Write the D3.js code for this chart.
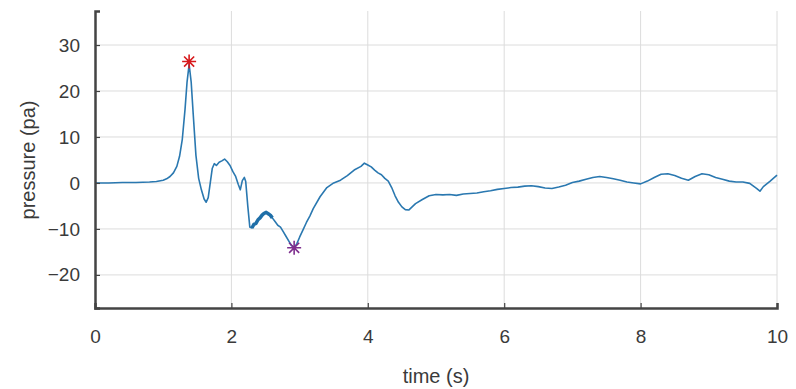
<!DOCTYPE html>
<html>
<head>
<meta charset="utf-8">
<script src="https://cdn.jsdelivr.net/npm/d3@7"></script>
<style>
    body { margin: 0; background: #fff; }
    svg text { font-family: "Liberation Sans", Arial, sans-serif; fill: #3a3a3a; }
</style>
</head>
<body>
<svg class="chart"></svg>
<script>

// pressure trace
var time = [
    0, 0.2, 0.4, 0.6, 0.8, 0.9, 1.0, 1.05, 1.1, 1.15,
    1.2, 1.24, 1.28, 1.32, 1.35, 1.38, 1.41, 1.44, 1.48, 1.52,
    1.56, 1.6, 1.63, 1.66, 1.69, 1.72, 1.75, 1.78, 1.82, 1.86,
    1.9, 1.94, 1.98, 2.02, 2.06, 2.1, 2.13, 2.16, 2.19, 2.21,
    2.24, 2.27, 2.3, 2.33, 2.36, 2.39, 2.42, 2.45, 2.48, 2.51,
    2.54, 2.57, 2.6, 2.64, 2.68, 2.72, 2.76, 2.8, 2.84, 2.88,
    2.92, 2.96, 3.0, 3.05, 3.1, 3.15, 3.2, 3.3, 3.4, 3.5,
    3.6, 3.7, 3.8, 3.9, 3.95, 4.0, 4.05, 4.1, 4.15, 4.2,
    4.25, 4.3, 4.35, 4.4, 4.45, 4.5, 4.55, 4.6, 4.65, 4.7,
    4.8, 4.9, 5.0, 5.1, 5.2, 5.3, 5.4, 5.5, 5.6, 5.7,
    5.8, 5.9, 6.0, 6.1, 6.2, 6.3, 6.4, 6.5, 6.6, 6.7,
    6.8, 6.9, 7.0, 7.1, 7.2, 7.3, 7.4, 7.5, 7.6, 7.7,
    7.8, 7.9, 8.0, 8.1, 8.2, 8.3, 8.4, 8.5, 8.6, 8.7,
    8.8, 8.9, 9.0, 9.1, 9.2, 9.3, 9.4, 9.5, 9.6, 9.7,
    9.75, 9.8, 9.9, 10.0
];

var pressure = [
    0, 0, 0.1, 0.1, 0.2, 0.3, 0.6, 0.9, 1.4, 2.2,
    3.6, 5.8, 9.5, 16, 22, 25.8, 22, 15, 6, 1,
    -1.5, -3.5, -4.2, -3.2, 0, 3.2, 4.2, 3.8, 4.5, 4.8,
    5.2, 4.6, 3.8, 2.5, 1.5, -0.3, -1.5, 0.5, 1.2, 0.3,
    -5, -9.6, -9.8, -9.0, -8.8, -8.0, -7.6, -7.0, -6.6, -6.4,
    -6.7, -7.0, -7.6, -8.4, -9.2, -9.6, -10.6, -11.6, -12.6, -13.6,
    -14.1, -13.2, -11.8, -10.2, -8.6, -7.2, -5.6, -3, -1.0, 0,
    0.6, 1.6, 2.8, 3.6, 4.3, 3.9, 3.5, 2.8, 2.2, 1.8,
    1.0, 0.4, -1.0, -2.8, -4.2, -5.2, -5.8, -5.9, -5.2, -4.5,
    -3.6, -2.8, -2.5, -2.6, -2.5, -2.7, -2.4, -2.3, -2.2, -1.9,
    -1.7, -1.4, -1.2, -1.0, -0.9, -0.7, -0.6, -0.8, -1.1, -1.2,
    -0.9, -0.5, 0.1, 0.4, 0.8, 1.2, 1.4, 1.2, 0.9, 0.6,
    0.2, 0.0, -0.2, 0.4, 1.2, 1.9, 2.0, 1.6, 1.0, 0.6,
    1.4, 2.0, 1.8, 1.2, 0.8, 0.4, 0.2, 0.2, -0.1, -1.2,
    -1.8, -0.8, 0.4, 1.7
];

// marked extremes
var peakPoint = [1.38, 26.4];
var troughPoint = [2.92, -14.1];

var xTicks = [0, 2, 4, 6, 8, 10];
var yTicks = [-20, -10, 0, 10, 20, 30];

var width = 796,
    height = 389,
    plotLeft = 95,
    plotRight = 777,
    plotTop = 11,
    plotBottom = 308;

var x = d3.scaleLinear().domain([0, 10]).range([plotLeft, plotRight]);
var y = d3.scaleLinear().domain([-27.2, 37.4]).range([plotBottom, plotTop]);

var data = time.map(function(t, i) { return [t, pressure[i]]; });

var svg = d3.select(".chart")
    .attr("width", width)
    .attr("height", height);

// grid
svg.append("g")
    .selectAll("line")
    .data(xTicks.filter(function(d) { return d > 0; }))
    .enter().append("line")
    .attr("x1", function(d) { return x(d); })
    .attr("x2", function(d) { return x(d); })
    .attr("y1", plotTop)
    .attr("y2", plotBottom)
    .attr("stroke", "#dcdcdc")
    .attr("stroke-width", 1);

svg.append("g")
    .selectAll("line")
    .data(yTicks)
    .enter().append("line")
    .attr("x1", plotLeft)
    .attr("x2", plotRight)
    .attr("y1", function(d) { return y(d); })
    .attr("y2", function(d) { return y(d); })
    .attr("stroke", "#dcdcdc")
    .attr("stroke-width", 1);

// trace
var line = d3.line()
    .x(function(d) { return x(d[0]); })
    .y(function(d) { return y(d[1]); });

svg.append("path")
    .datum(data)
    .attr("fill", "none")
    .attr("stroke", "#2a78b0")
    .attr("stroke-width", 1.6)
    .attr("stroke-linejoin", "round")
    .attr("d", line);

// the noisy stretch after the drop looks thicker in the picture
svg.append("path")
    .datum(data.filter(function(d) { return d[0] >= 2.3 && d[0] <= 2.6; }))
    .attr("fill", "none")
    .attr("stroke", "#1f6fa8")
    .attr("stroke-width", 3.5)
    .attr("stroke-linejoin", "round")
    .attr("d", line);

// asterisk markers
function star(p, r) {
    var cx = x(p[0]), cy = y(p[1]), d = r * 0.72;
    return "M" + (cx - r) + "," + cy + "H" + (cx + r) +
        "M" + cx + "," + (cy - r) + "V" + (cy + r) +
        "M" + (cx - d) + "," + (cy - d) + "L" + (cx + d) + "," + (cy + d) +
        "M" + (cx - d) + "," + (cy + d) + "L" + (cx + d) + "," + (cy - d);
}

svg.append("path")
    .attr("d", star(peakPoint, 7))
    .attr("stroke", "#d7191c")
    .attr("stroke-width", 1.6)
    .attr("fill", "none");

svg.append("path")
    .attr("d", star(troughPoint, 7))
    .attr("stroke", "#7e2f8e")
    .attr("stroke-width", 1.6)
    .attr("fill", "none");

// axes
var xAxis = d3.axisBottom(x)
    .tickValues(xTicks)
    .tickSize(-5)
    .tickPadding(22)
    .tickFormat(d3.format("d"));

var yAxis = d3.axisLeft(y)
    .tickValues(yTicks)
    .tickSize(-5)
    .tickPadding(15)
    .tickFormat(d3.format("d"));

var gx = svg.append("g")
    .attr("transform", "translate(0," + plotBottom + ")")
    .call(xAxis);

var gy = svg.append("g")
    .attr("transform", "translate(" + plotLeft + ",0)")
    .call(yAxis);

[gx, gy].forEach(function(g) {
    g.select(".domain").attr("stroke", "#444").attr("stroke-width", 2.5);
    g.selectAll(".tick line").attr("stroke", "#444").attr("stroke-width", 1.2);
    g.selectAll(".tick text")
        .style("font-size", "19px")
        .attr("fill", "#3a3a3a");
});

svg.append("text")
    .attr("x", x(5))
    .attr("y", 383)
    .attr("text-anchor", "middle")
    .style("font-size", "20px")
    .text("time (s)");

svg.append("text")
    .attr("transform", "translate(35," + y(5) + ") rotate(-90)")
    .attr("text-anchor", "middle")
    .style("font-size", "20px")
    .text("pressure (pa)");

</script>
</body>
</html>
